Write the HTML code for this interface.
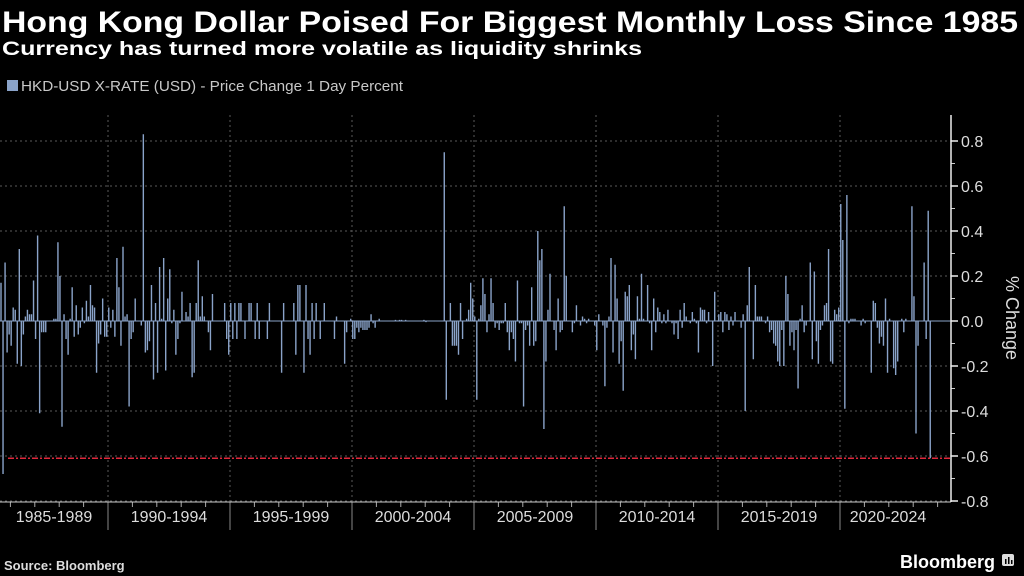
<!DOCTYPE html>
<html><head><meta charset="utf-8">
<style>
html,body{margin:0;padding:0;background:#000;}
svg{display:block;font-family:"Liberation Sans",sans-serif;}
</style></head>
<body>
<svg id="chart" width="1024" height="576" viewBox="0 0 1024 576" xmlns="http://www.w3.org/2000/svg">
<rect width="1024" height="576" fill="#000"/>
<text x="2" y="32" fill="#fff" font-size="30" font-weight="bold" textLength="1016" lengthAdjust="spacingAndGlyphs">Hong Kong Dollar Poised For Biggest Monthly Loss Since 1985</text>
<text x="2" y="55" fill="#fff" font-size="19" font-weight="bold" textLength="640" lengthAdjust="spacingAndGlyphs">Currency has turned more volatile as liquidity shrinks</text>
<rect x="7" y="80" width="11" height="11" fill="#8aa3c9"/>
<text x="21" y="91" fill="#c8c8c8" font-size="14.5" textLength="382" lengthAdjust="spacingAndGlyphs">HKD-USD X-RATE (USD) - Price Change 1 Day Percent</text>
<g id="grid"></g>
<g id="bars"></g>
<g id="axes"></g>
<text transform="translate(1006,318) rotate(90)" text-anchor="middle" fill="#ddd" font-size="18">% Change</text>
<text x="4" y="570" fill="#ddd" font-size="13" font-weight="bold">Source: Bloomberg</text>
<text x="995" y="568" text-anchor="end" fill="#fff" font-size="18" font-weight="bold">Bloomberg</text>
<g>
<rect x="1002" y="554" width="12" height="12" rx="2" fill="#ddd"/>
<rect x="1005" y="559" width="1.5" height="5" fill="#000"/><rect x="1008" y="557" width="1.5" height="7" fill="#000"/><rect x="1011" y="560" width="1.5" height="4" fill="#000"/>
</g>
</svg>
<script>
const categories = ["1985-1989","1990-1994","1995-1999","2000-2004","2005-2009","2010-2014","2015-2019","2020-2024"];
const yTicks = [0.8,0.6,0.4,0.2,0.0,-0.2,-0.4,-0.6,-0.8];
const yTickLabels = ["0.8","0.6","0.4","0.2","0.0","-0.2","-0.4","-0.6","-0.8"];
const referenceLine = -0.61;
const seg1 = [0.17,-0.68,0.26,-0.14,-0.06,-0.11,0.06,0.05,-0.19,0.32,
-0.20,-0.06,0.02,0.05,0.03,0.03,0.18,-0.08,0.38,-0.41,
-0.05,-0.05,-0.05,0,0,0,0.01,0.01,0.35,0.20,
-0.47,0.03,-0.08,-0.15,0.01,0.15,-0.07,0.07,-0.06,-0.03,
0.06,-0.01,0.09,0.02,0.16,0.07,0.06,-0.23,-0.10,-0.06,
0.10,-0.07,-0.07,0.06,-0.03,0.05,-0.07,0.28,0.15,-0.11,
0.33,0.02,0.03,-0.38,-0.08,-0.05,0.10,0,0,-0.02,
0.83,-0.14,-0.13,-0.09,0.16,-0.26,0.08,-0.23,0.24,0.01,
0.28,-0.22,0.10,0.23,-0.01,0.05,-0.15,-0.08,-0.01,0.13,
0,0.04,0.02,0.08,-0.25,-0.23,0.08,0.27,0.02,0.11,
0.02,0,-0.05,-0.13,0.12,0,0,0,0,0,
0.08,-0.08,-0.15,0.08,-0.08,0.08,-0.08,0.08];
const seg2 = [0.08,0,-0.08,0,0.08,0.08,0,-0.08,0.08,-0.08,
0,0,0,-0.08,0.08,0,0,0,0,0,
-0.23,0.08,0,0,0,0,0.08,-0.15,0.16,0.16,
0,-0.23,0.16,-0.08,-0.15,0.08,-0.08,0.08,0,-0.08,
0,0.08,0,0,0,0,-0.08,0.02,0,0,
0,-0.19,-0.05,0,0.01,-0.08,-0.08,-0.03,-0.05,-0.03,
-0.04,-0.04,-0.04,-0.03,0.03,-0.01,-0.03,0,0.01,0,
0,0,0,0,0,0,0.005,0,0.005,0.005,
0,0.005,0,0,0,0,0,0,0,0,
0.005,-0.005,0,0,0,0,0,0,0,0,
0.75,-0.35,0,0.08,-0.11,-0.11,-0.11,-0.15,0.08,-0.08,
0,0.01,0.05,0.17,0.10,0.02,-0.35,0.01];
const seg3 = [0.07,0.19,0.12,-0.05,0.03,0.19,0.08,-0.03,-0.01,-0.04,
-0.01,-0.01,0.08,-0.05,-0.13,-0.05,-0.08,-0.18,0.18,-0.01,
-0.01,-0.38,-0.04,-0.02,-0.11,0.15,-0.11,-0.09,0.40,0.27,
0.32,-0.48,-0.18,0.05,0.21,0,-0.04,-0.13,0.10,-0.05,
-0.04,0.51,0.20,0,0,-0.05,-0.01,0.07,0,-0.02,
0.02,0.01,-0.01,0.01,0,0,-0.02,-0.13,0.03,0,
-0.02,-0.29,-0.03,0.02,0.28,-0.14,0.25,0.10,-0.19,-0.09,
-0.31,0.13,0.11,0.16,-0.13,-0.06,-0.17,0.11,0.01,0.21,
0.01,0,0.16,-0.01,-0.13,0.10,-0.05,0.06,0.04,-0.01,
0.03,-0.01,0.05,0,-0.01,-0.06,-0.01,-0.08,0.05,-0.03,
0.08,0.02,0,-0.01,0.04,0.01,-0.01,-0.14,0.06,0.05,
0.05,-0.01,0.04,0,-0.20,0.13,0,0.03];
const seg4 = [0.04,-0.05,0.04,0.03,-0.04,0.02,-0.02,0.04,0,0,
-0.03,0.03,-0.40,0.07,0.24,0,-0.17,0.16,0.02,0.02,
0.02,0,-0.01,0.02,-0.05,-0.04,-0.10,-0.11,-0.18,-0.20,
-0.04,-0.20,0.20,0.12,-0.11,-0.05,-0.13,-0.04,-0.30,0.01,
0.07,-0.05,-0.02,0,0.26,-0.17,0.22,-0.09,-0.19,-0.04,
-0.02,0.07,0.08,0.32,-0.18,-0.19,0.05,0.03,0.06,0.52,
0.36,-0.39,0.56,-0.01,0.01,0.01,0.01,0,0,-0.02,
0.01,-0.01,0,0,-0.23,0.09,0.08,-0.03,-0.10,-0.07,
-0.11,0.10,-0.23,0.01,0,-0.21,-0.24,-0.18,0,0.01,
-0.05,0.01,0,0,0.51,0.11,-0.50,-0.11,0,0,
0.26,-0.08,0.49,-0.61];
const values = seg1.concat(seg2, seg3, seg4);

const NS = "http://www.w3.org/2000/svg";
const X0 = 1, STEP = 122/60, AXIS_X = 951, PLOT_TOP = 115, AXIS_Y = 502;
const CAT0 = -14, CATW = 122;
function xScale(i){ return X0 + i*STEP; }
function catX(k){ return CAT0 + k*CATW; }
function yScale(v){ return 321 - v*225; }
function mk(tag, attrs, parent){ const e=document.createElementNS(NS,tag); for(const k in attrs) e.setAttribute(k,attrs[k]); parent.appendChild(e); return e; }

const grid = document.getElementById('grid');
const bars = document.getElementById('bars');
const axes = document.getElementById('axes');

yTicks.forEach((t,k)=>{
  const y = yScale(t);
  const g = mk('line',{x1:0,x2:AXIS_X,y1:y,y2:y,stroke:'#5a5a5a','stroke-width':1,'stroke-dasharray':'2,3'},grid);
  
  
  const tk = mk('line',{x1:AXIS_X,x2:AXIS_X+7,y1:y,y2:y,stroke:'#eee','stroke-width':1.5},axes);
  
  
  const lb = mk('text',{x:AXIS_X+10,y:y+6,fill:'#ddd','font-size':16},axes);
  lb.textContent = yTickLabels[k];
  
  
  if(k<yTicks.length-1){
    const ym = yScale(t-0.1);
    const mt = mk('line',{x1:AXIS_X,x2:AXIS_X+4,y1:ym,y2:ym,stroke:'#ccc','stroke-width':1},axes);
    
    
  }
});

categories.forEach((c,k)=>{
  const xs = catX(k);
  if(k>0){
    const v = mk('line',{x1:xs,x2:xs,y1:PLOT_TOP,y2:AXIS_Y,stroke:'#5a5a5a','stroke-width':1,'stroke-dasharray':'2,3'},grid);
    
    
    const s = mk('line',{x1:xs,x2:xs,y1:AXIS_Y,y2:530,stroke:'#888','stroke-width':1},axes);
    
    
  }
  const cx = Math.min(Math.max(catX(k)+CATW/2, 54), 888);
  const t = mk('text',{x:cx,y:522,fill:'#ddd','font-size':16,'text-anchor':'middle'},axes);
  t.textContent = c;
  
  
  for(let yr=1; yr<5; yr++){
    const xt = catX(k)+yr*CATW/5;
    if(xt<0 || xt>AXIS_X) continue;
    const yt = mk('line',{x1:xt,x2:xt,y1:AXIS_Y,y2:AXIS_Y+5,stroke:'#aaa','stroke-width':1},axes);
    
    
  }
});

const xa = mk('line',{x1:0,x2:AXIS_X,y1:AXIS_Y,y2:AXIS_Y,stroke:'#ccc','stroke-width':1},axes);


const ya = mk('line',{x1:AXIS_X,x2:AXIS_X,y1:PLOT_TOP,y2:AXIS_Y,stroke:'#eee','stroke-width':1.5},axes);



const zl = mk('line',{x1:0,x2:AXIS_X,y1:yScale(0),y2:yScale(0),stroke:'#8aa3c9','stroke-width':1},bars);



values.forEach((v,i)=>{
  const x = xScale(i);
  const y0 = yScale(0), y1 = yScale(v);
  const r = mk('rect',{x:x-0.7,y:Math.min(y0,y1),width:1.4,height:Math.max(Math.abs(y1-y0),0.5),fill:'#8aa3c9'},bars);
  
  
});

const rl = mk('line',{x1:8,x2:AXIS_X,y1:yScale(referenceLine),y2:yScale(referenceLine),stroke:'#e0283c','stroke-width':1.6,'stroke-dasharray':'6,2,2,2'},bars);


</script>
</body></html>
